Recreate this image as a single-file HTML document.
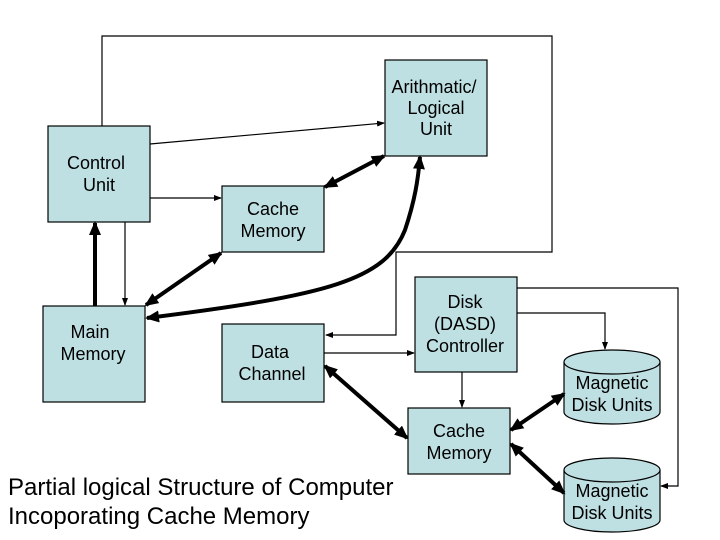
<!DOCTYPE html>
<html><head><style>
body{margin:0;background:#fff}
svg{display:block}
text{font-family:"Liberation Sans",sans-serif;font-size:18px;fill:#000;text-anchor:middle}
</style></head><body>
<svg width="720" height="540" viewBox="0 0 720 540">
<defs>
<marker id="a" markerWidth="8" markerHeight="6" refX="7" refY="3" orient="auto" markerUnits="userSpaceOnUse"><path d="M0,0L8,3L0,6z"/></marker>
<marker id="b" markerWidth="14" markerHeight="12" refX="12" refY="6" orient="auto-start-reverse" markerUnits="userSpaceOnUse"><path d="M0,0L14,6L0,12z"/></marker>
</defs>
<g fill="#bfe0e3" stroke="#000" stroke-width="1.2">
<rect x="385" y="60" width="102" height="96"/>
<rect x="48" y="126" width="102" height="96"/>
<rect x="222" y="186" width="102" height="66"/>
<rect x="43" y="306" width="102" height="96"/>
<rect x="222" y="324" width="102" height="78"/>
<rect x="415" y="277" width="102" height="95"/>
<rect x="408" y="408" width="102" height="66"/>
<path d="M564,362 L564,412 A48,12 0 0 0 660,412 L660,362"/>
<ellipse cx="612" cy="362" rx="48" ry="12"/>
<path d="M564,470 L564,520 A48,12 0 0 0 660,520 L660,470"/>
<ellipse cx="612" cy="470" rx="48" ry="12"/>
</g>
<g fill="none" stroke="#000" stroke-width="1.2">
<path d="M102,126V36H552V252H396V335H326" marker-end="url(#a)"/>
<path d="M150,144L384,123" marker-end="url(#a)"/>
<path d="M150,198H221" marker-end="url(#a)"/>
<path d="M125,222V305" marker-end="url(#a)"/>
<path d="M324,353H414" marker-end="url(#a)"/>
<path d="M462,372V407" marker-end="url(#a)"/>
<path d="M517,313H605V349" marker-end="url(#a)"/>
<path d="M517,288H678V486H661" marker-end="url(#a)"/>
</g>
<g fill="none" stroke="#000" stroke-width="4">
<path d="M95,306V223" marker-end="url(#b)"/>
<path d="M325,187L384,156" marker-start="url(#b)" marker-end="url(#b)"/>
<path d="M146,305L221,253" marker-start="url(#b)" marker-end="url(#b)"/>
<path d="M147,318C330,295 385,280 405,230 C415,200 418,180 420,157" marker-start="url(#b)" marker-end="url(#b)"/>
<path d="M325,366L407,438" marker-start="url(#b)" marker-end="url(#b)"/>
<path d="M511,430L564,394" marker-start="url(#b)" marker-end="url(#b)"/>
<path d="M511,444L564,493" marker-start="url(#b)" marker-end="url(#b)"/>
</g>
<text x="434" y="93">Arithmatic/</text><text x="436" y="114">Logical</text><text x="436" y="135">Unit</text>
<text x="96" y="169">Control</text><text x="99" y="191">Unit</text>
<text x="273" y="215">Cache</text><text x="273" y="237">Memory</text>
<text x="90" y="338">Main</text><text x="93" y="360">Memory</text>
<text x="270" y="358">Data</text><text x="272" y="380">Channel</text>
<text x="465" y="308">Disk</text><text x="465" y="330">(DASD)</text><text x="465" y="352">Controller</text>
<text x="459" y="437">Cache</text><text x="459" y="459">Memory</text>
<text x="612" y="389">Magnetic</text><text x="612" y="411">Disk Units</text>
<text x="612" y="497">Magnetic</text><text x="612" y="519">Disk Units</text>
<text x="8" y="495" style="text-anchor:start;font-size:24px">Partial logical Structure of Computer</text>
<text x="8" y="524" style="text-anchor:start;font-size:24px">Incoporating Cache Memory</text>
</svg>
</body></html>
